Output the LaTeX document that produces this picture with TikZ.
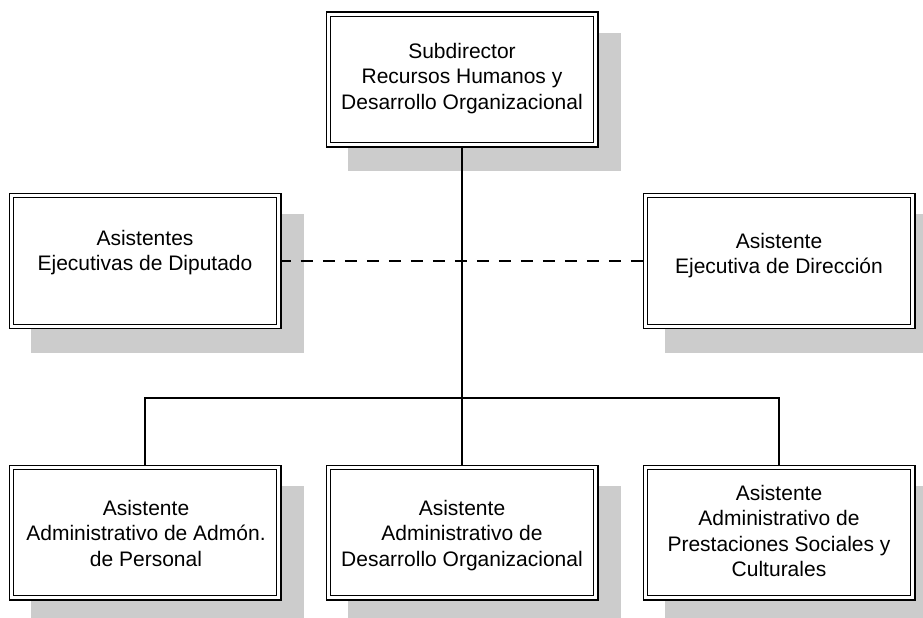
\documentclass[tikz,border=0pt]{standalone}
\usepackage{fontspec}
\setmainfont{Liberation Sans}
\pgfdeclarelayer{shadowlayer}
\pgfdeclarelayer{linelayer}
\pgfsetlayers{shadowlayer,linelayer,main}
\begin{document}
\begin{tikzpicture}[x=1pt,y=-1pt,
  orgbox/.style={draw=black, fill=white, line width=1.3pt, double=white, double distance=2.8pt,
    minimum width=267.6pt, minimum height=130.6pt, inner sep=0pt, outer sep=0pt},
  orgtext/.style={anchor=north, align=center, inner sep=0pt, outer sep=0pt,
    font=\fontsize{21}{25.5}\selectfont},
  shadowfill/.style={fill=black!20, draw=none},
  conn/.style={draw=black, line width=1.5pt},
  dashconn/.style={draw=black, line width=1.5pt, dash pattern=on 12pt off 10pt}]
\useasboundingbox (0,0) rectangle (923,618);

% boxes
\node[orgbox] (top) at (462,79.5) {};
\node[orgbox] (lm) at (145,261) {};
\node[orgbox] (rm) at (779,261) {};
\node[orgbox] (bl) at (145,532.5) {};
\node[orgbox] (bm) at (462,532.5) {};
\node[orgbox] (br) at (779,532.5) {};

% texts
\node[orgtext] (topt) at (462,43) {Subdirector\\Recursos Humanos y\\Desarrollo Organizacional};
\node[orgtext] (lmt) at (145,230) {Asistentes\\Ejecutivas de Diputado};
\node[orgtext] (rmt) at (779,233) {Asistente\\Ejecutiva de Dirección};
\node[orgtext] (blt) at (146,500) {Asistente\\Administrativo de Admón.\\de Personal};
\node[orgtext] (bmt) at (462,500) {Asistente\\Administrativo de\\Desarrollo Organizacional};
\node[orgtext] (brt) at (779,485) {Asistente\\Administrativo de\\Prestaciones Sociales y\\Culturales};

% shadows
\begin{pgfonlayer}{shadowlayer}
\foreach \b in {top,lm,rm,bl,bm,br}{
  \fill[shadowfill] ([shift={(19.5,18.5)}]\b.north west) rectangle ([shift={(25.5,26.5)}]\b.south east);
}
\end{pgfonlayer}

% connectors
\coordinate (bus) at (462,398);
\begin{pgfonlayer}{linelayer}
\draw[conn] (top.south) -- (bm.north);
\draw[conn] (bl.north) -- (bl.north |- bus) -- (br.north |- bus) -- (br.north);
\draw[dashconn] (lm.east) -- (rm.west);
\end{pgfonlayer}
\end{tikzpicture}
\end{document}
